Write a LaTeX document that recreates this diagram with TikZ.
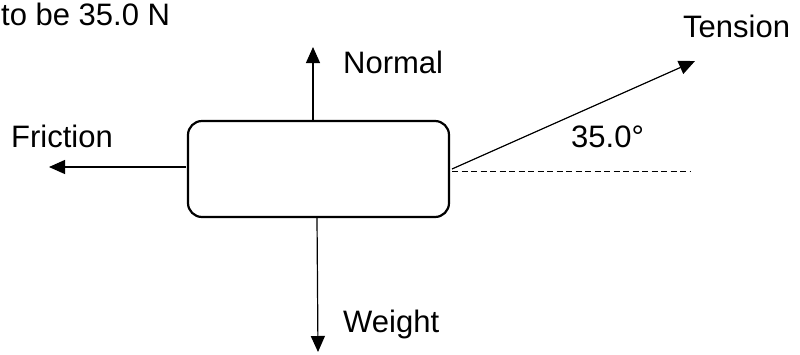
\documentclass[tikz,border=0pt]{standalone}
\usepackage{fontspec}
\setmainfont{Liberation Sans}
\usetikzlibrary{arrows.meta}
\begin{document}
\begin{tikzpicture}[x=1pt,y=-1pt,
  lbl/.style={anchor=base west,inner sep=0pt,font=\fontsize{31}{36}\selectfont},
  force/.style={line width=1.2pt,-{Triangle[length=16pt,width=14pt]}},
  body/.style={draw,line width=2.2pt,rounded corners=14pt,minimum width=261pt,minimum height=96pt,inner sep=0pt}]
\useasboundingbox (0,0) rectangle (800,354);
\node[body] (box) at (318.5,169) {};
\coordinate (ntop) at (313,47);
\coordinate (nbot) at (313,120);
\coordinate (wtop) at (317,218);
\coordinate (wtip) at (318,352);
\coordinate (fst) at (186,167);
\coordinate (ftip) at (49,167);
\coordinate (tst) at (452,169);
\coordinate (ttip) at (695,61);
\coordinate (dst) at (452,171);
\coordinate (dend) at (690,171);
\draw[force] (nbot) -- (ntop);
\draw[force] (wtop) -- (wtip);
\draw[force] (fst) -- (ftip);
\draw[force] (tst) -- (ttip);
\draw[line width=0.9pt,dash pattern=on 6pt off 3.5pt] (dst) -- (dend);
\node[lbl] (given) at (1,25) {to be 35.0 N};
\node[lbl] (normal) at (343,73) {Normal};
\node[lbl] (tension) at (683,37) {Tension};
\node[lbl] (friction) at (11,147) {Friction};
\node[lbl] (angle) at (571,147) {35.0°};
\node[lbl] (weight) at (343,332) {Weight};
\end{tikzpicture}
\end{document}
